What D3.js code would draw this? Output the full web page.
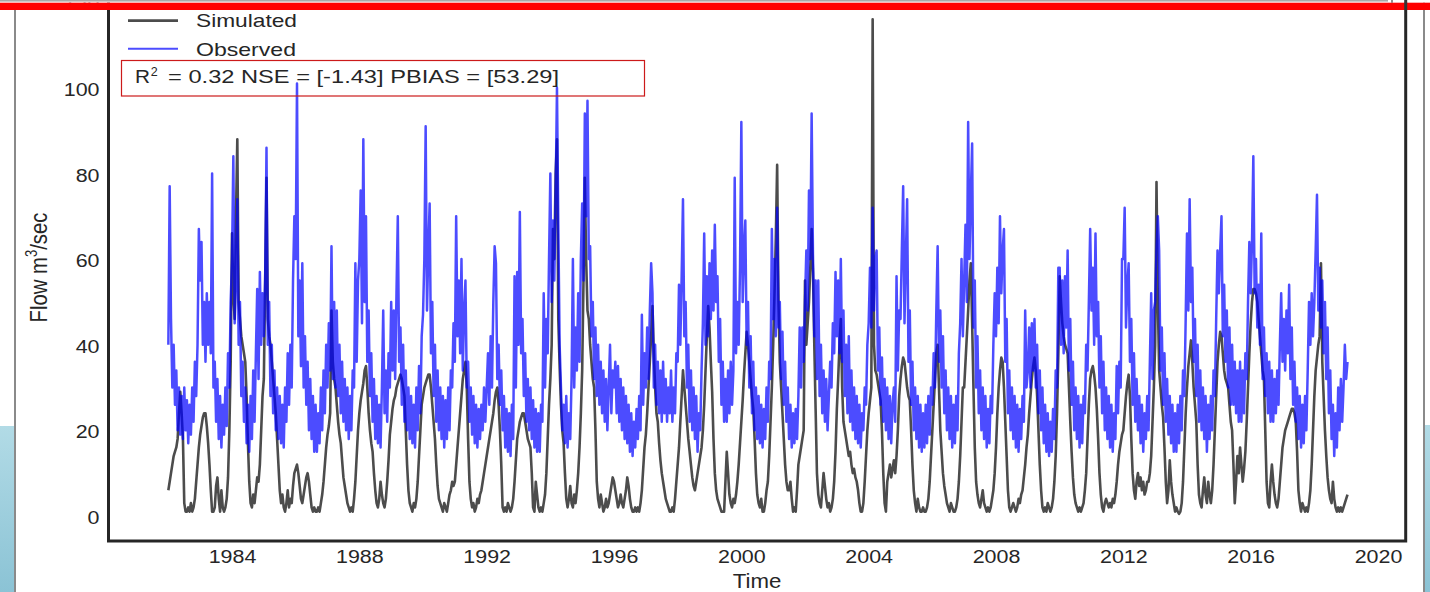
<!DOCTYPE html>
<html><head><meta charset="utf-8">
<script src="https://cdn.jsdelivr.net/npm/d3@7"></script>
<style>
body{margin:0;background:#fff;overflow:hidden}
svg{display:block}
text{font-family:"Liberation Sans",Arial,Helvetica,sans-serif;fill:#262626}
</style>
</head><body>
<svg id="c" width="1430" height="592"></svg>
<script>
// ---- data (semimonthly values, 24 per year starting 1982) ----
const startYear = 1982;
const stepsPerYear = 24;
const simulated = [
/*1982*/ 6,8,10,12,14,15,16,18,24,29,24,18,3,1,1,2,1,3,1,2,4,8,12,16,
/*1983*/ 19,21,23,24,24,21,17,12,6,1,1,2,7,9,4,1,6,2,1,2,4,9,20,36,
/*1984*/ 66,52,46,70,88,50,46,42,40,38,36,28,17,8,3,2,5,3,6,9,8,12,20,28,
/*1985*/ 32,55,79,46,42,40,36,32,28,24,18,12,6,3,5,2,1,3,6,2,4,3,7,10,
/*1986*/ 11,12,10,7,4,3,5,7,9,10,8,5,2,1,2,1,1,2,1,3,5,8,12,16,
/*1987*/ 19,21,24,48,36,32,30,26,22,19,17,13,9,7,5,3,2,1,2,1,4,8,14,20,
/*1988*/ 24,27,29,31,34,35,30,24,20,17,15,10,6,3,2,4,8,5,3,2,4,8,13,19,
/*1989*/ 22,25,27,28,30,31,32,33,32,30,28,20,12,6,3,2,1,3,2,4,8,14,20,26,
/*1990*/ 28,30,31,32,33,33,30,26,22,18,12,7,4,3,2,1,3,2,1,3,5,6,8,7,
/*1991*/ 8,12,16,20,24,28,32,34,36,30,18,8,4,2,3,1,2,4,3,5,6,8,10,12,
/*1992*/ 14,16,18,20,22,24,27,29,30,26,20,12,2,1,2,1,3,2,1,2,4,8,13,18,
/*1993*/ 20,22,23,24,24,22,20,18,17,16,10,2,1,8,5,2,1,2,1,3,5,10,18,26,
/*1994*/ 32,40,67,60,80,88,46,35,26,20,17,10,4,2,4,7,3,2,5,3,6,10,16,24,
/*1995*/ 34,55,79,60,48,46,40,36,32,30,20,8,4,2,5,3,1,2,4,2,3,5,7,9,
/*1996*/ 8,6,4,2,3,5,3,2,4,6,9,7,4,2,1,1,2,1,2,1,3,6,11,16,
/*1997*/ 19,24,30,36,42,49,38,30,24,22,17,13,10,8,6,4,3,2,1,1,2,1,4,8,
/*1998*/ 12,16,22,28,34,30,26,22,18,15,12,9,7,6,8,10,12,14,16,20,26,34,42,49,
/*1999*/ 44,36,29,18,10,6,4,3,2,1,1,1,8,15,10,5,3,2,4,3,5,8,12,17,
/*2000*/ 22,27,33,38,43,40,36,32,28,25,18,10,5,3,2,4,1,1,3,6,8,14,22,30,
/*2001*/ 40,52,65,82,50,36,30,24,18,12,8,6,6,8,4,1,2,1,6,12,14,16,18,20,
/*2002*/ 55,40,45,50,58,67,57,40,25,10,5,3,2,6,10,7,4,2,3,1,2,4,8,15,
/*2003*/ 25,32,40,46,30,22,20,18,16,14,15,12,10,11,9,8,6,3,1,1,3,8,14,20,
/*2004*/ 24,27,30,116,40,34,33,31,29,27,20,10,3,1,8,10,12,9,11,13,10,14,20,28,
/*2005*/ 32,35,37,36,33,30,28,27,20,12,6,3,1,4,2,1,1,2,1,1,2,4,8,14,
/*2006*/ 20,26,32,38,40,30,20,15,10,7,5,3,2,1,3,2,1,1,2,4,8,14,22,30,
/*2007*/ 30,36,42,48,55,59,45,30,16,8,5,3,2,4,6,3,2,1,2,1,2,4,6,10,
/*2008*/ 16,24,30,34,37,36,30,22,14,6,2,1,2,3,2,1,2,4,3,5,6,9,12,16,
/*2009*/ 19,24,28,32,35,37,34,28,20,12,6,2,1,2,1,3,2,1,2,4,8,14,24,38,
/*2010*/ 56,50,45,42,40,39,38,30,22,15,9,5,3,2,1,2,1,2,3,6,10,18,26,32,
/*2011*/ 34,35,33,30,25,18,10,5,2,1,3,4,3,2,3,2,4,3,5,8,12,15,17,19,
/*2012*/ 20,24,28,31,33,28,18,10,6,4,8,10,7,9,6,8,5,6,8,8,10,14,22,30,
/*2013*/ 40,78,50,34,30,26,23,16,8,3,6,13,8,5,3,1,2,1,0.5,1,3,8,16,24,
/*2014*/ 30,35,38,41,36,30,26,22,12,5,3,2,6,9,5,3,8,5,3,6,12,20,28,36,
/*2015*/ 40,43,42,38,34,32,31,30,26,22,20,12,3,8,14,10,16,12,8,11,15,22,30,38,
/*2016*/ 45,50,53,53,52,50,46,42,38,34,32,20,8,3,2,8,12,8,5,3,2,4,8,12,
/*2017*/ 16,18,20,21,22,23,24,25,25,24,22,15,6,3,1,3,2,1,2,1,3,6,12,20,
/*2018*/ 28,34,37,40,42,59,36,28,20,14,9,6,4,3,8,4,2,1,2,1,2,1,2,3,
/*2019*/ 4,5
];
const observed = [
/*1982*/ 40,77,46,30,40,26,34,20,30,19,28,18,30,20,27,17,26,19,30,22,36,28,40,67,
/*1983*/ 55,64,40,50,36,52,40,50,38,80,30,36,22,32,18,28,16,26,19,30,21,38,30,50,
/*1984*/ 60,84,45,55,74,40,50,28,36,22,30,17,26,15,28,18,34,22,38,53,32,57,40,52,
/*1985*/ 42,55,86,40,50,28,40,24,34,20,30,18,28,17,26,16,30,22,38,26,40,30,55,70,
/*1986*/ 60,101,42,55,35,59,30,42,26,36,20,32,18,28,15,26,15,24,17,30,20,34,24,40,
/*1987*/ 30,45,34,63,32,50,30,48,28,40,24,36,22,32,20,30,18,28,20,34,30,59,36,55,
/*1988*/ 60,76,45,88,50,70,36,48,28,38,22,32,18,28,17,26,16,30,48,24,34,22,38,30,
/*1989*/ 50,34,48,32,52,70,36,44,26,40,22,34,20,30,18,28,17,26,16,30,20,35,24,42,
/*1990*/ 47,60,91,48,62,73,38,50,28,40,22,34,20,30,18,28,16,27,18,30,20,34,30,45,
/*1991*/ 36,70,42,55,38,60,34,48,55,30,36,22,30,19,28,17,26,16,25,18,26,20,30,22,
/*1992*/ 30,38,26,42,30,50,63,59,32,40,26,34,20,28,16,25,15,24,14,26,18,56,30,57,
/*1993*/ 40,71,38,46,28,38,22,32,20,30,18,27,16,25,15,24,15,26,22,52,30,46,38,60,
/*1994*/ 80,50,69,55,75,100,68,40,30,20,26,17,28,16,24,18,32,60,30,44,34,52,36,60,
/*1995*/ 73,55,94,70,97,60,63,42,50,32,44,28,40,26,36,24,34,22,32,20,30,40,24,34,
/*1996*/ 30,36,24,35,22,32,20,30,18,28,17,26,15,24,14,22,16,25,18,28,20,47,26,38,
/*1997*/ 30,44,32,48,59,52,30,40,26,36,24,34,22,36,24,32,22,30,24,34,22,30,24,38,
/*1998*/ 36,54,40,56,74,42,50,30,40,22,34,20,30,18,28,15,24,20,34,45,66,40,56,42,
/*1999*/ 59,46,62,48,68,50,56,36,46,26,36,22,32,22,34,24,36,26,34,79,38,50,40,58,
/*2000*/ 92,50,62,69,40,50,30,42,24,36,20,30,18,28,17,26,16,25,18,30,22,36,32,67,
/*2001*/ 46,60,42,72,44,50,32,43,26,36,22,30,18,26,16,24,17,25,18,28,44,30,44,36,
/*2002*/ 50,62,48,76,60,94,61,42,55,32,55,28,40,24,34,22,32,20,28,36,30,45,38,57,
/*2003*/ 42,55,38,60,36,48,28,40,24,42,22,34,20,30,18,28,17,26,16,24,20,30,26,40,
/*2004*/ 45,58,44,72,48,60,62,34,44,26,37,22,32,20,30,18,28,17,26,30,22,56,34,48,
/*2005*/ 46,62,77,45,60,74,36,48,26,36,20,30,18,28,16,26,15,24,16,26,17,28,19,30,
/*2006*/ 26,38,30,48,63,36,48,30,42,24,34,20,30,18,28,16,26,17,28,20,38,45,60,42,
/*2007*/ 55,68,50,92,60,75,87,44,55,30,42,24,34,20,30,18,28,16,25,17,28,24,40,52,
/*2008*/ 42,58,45,70,52,62,67,36,46,24,34,20,30,18,28,16,26,15,25,18,28,22,48,30,
/*2009*/ 34,44,30,45,34,46,30,40,24,34,20,30,17,26,15,24,14,22,15,25,18,34,30,58,
/*2010*/ 58,40,55,38,56,44,62,34,46,26,36,20,30,18,28,16,26,17,28,24,40,34,50,67,
/*2011*/ 48,58,40,66,42,50,30,42,24,36,20,30,18,28,16,26,15,24,18,35,24,36,30,60,
/*2012*/ 60,72,44,54,59,36,46,26,38,22,32,20,28,17,26,15,24,18,28,20,36,52,32,48,
/*2013*/ 50,62,70,62,34,44,26,38,22,32,19,28,17,26,15,24,15,26,17,28,20,34,28,46,
/*2014*/ 66,48,74,50,58,36,46,28,40,22,34,20,30,18,28,15,26,18,28,20,34,28,46,62,
/*2015*/ 52,62,70,42,54,36,48,30,44,26,40,26,36,24,34,22,36,22,34,24,38,32,50,64,
/*2016*/ 52,64,84,52,60,44,54,40,66,32,44,28,38,24,36,22,34,22,32,24,34,26,40,52,
/*2017*/ 36,46,34,48,38,54,32,44,26,36,22,30,18,28,16,26,17,28,20,34,50,40,52,42,
/*2018*/ 50,62,75,48,58,44,55,38,50,32,44,24,34,18,26,14,24,16,30,20,32,22,30,40,
/*2019*/ 32,36
];
const yTicks = [0, 20, 40, 60, 80, 100, 120];
const xTicks = [1984, 1988, 1992, 1996, 2000, 2004, 2008, 2012, 2016, 2020];
const seriesNames = ["Simulated", "Observed"];
const statsLabel = {r2: "0.32", nse: "-1.43", pbias: "53.29"};

// ---- drawing ----
const svg = d3.select("#c");
const x = d3.scaleLinear().domain([1980.12, 2020.87]).range([108.5, 1405.7]);
const y = d3.scaleLinear().domain([-5.85, 122.85]).range([541, -10]);

function stretch(sel, f) {
  sel.each(function () {
    const w = this.getComputedTextLength();
    d3.select(this).attr("textLength", w * f).attr("lengthAdjust", "spacingAndGlyphs");
  });
}

// slide background pieces
const defs = svg.append("defs");
const g1 = defs.append("linearGradient").attr("id", "lb").attr("x1", 0).attr("y1", 0).attr("x2", 0).attr("y2", 1);
g1.append("stop").attr("offset", "0%").attr("stop-color", "#b2dbe6");
g1.append("stop").attr("offset", "100%").attr("stop-color", "#8bc3d5");
svg.append("rect").attr("x", 0).attr("y", 426).attr("width", 14).attr("height", 166).attr("fill", "url(#lb)");
svg.append("rect").attr("x", 1425).attr("y", 425).attr("width", 5).attr("height", 167).attr("fill", "url(#lb)");
svg.append("rect").attr("x", 14).attr("y", 10).attr("width", 2).attr("height", 582).attr("fill", "#8a8a8a");
svg.append("rect").attr("x", 1423).attr("y", 0).attr("width", 2).attr("height", 592).attr("fill", "#8a8a8a");

// series
const toPts = arr => arr.map((v, i) => [startYear + i / stepsPerYear, v]);
const line = d3.line().x(d => x(d[0])).y(d => y(d[1]));
svg.append("path").datum(toPts(simulated)).attr("d", line)
  .attr("fill", "none").attr("stroke", "#000").attr("stroke-opacity", 0.7)
  .attr("stroke-width", 2.6).attr("stroke-linejoin", "round");
svg.append("path").datum(toPts(observed)).attr("d", line)
  .attr("fill", "none").attr("stroke", "#0000ff").attr("stroke-opacity", 0.7)
  .attr("stroke-width", 2.5).attr("stroke-linejoin", "round");

// axes
const gy = svg.append("g").attr("transform", "translate(108.5,0)")
  .call(d3.axisLeft(y).tickValues(yTicks).tickSize(0).tickPadding(9));
gy.select(".domain").remove();
gy.attr("font-size", 18).attr("font-family", null);
gy.selectAll("text").attr("dy", "0.42em");
stretch(gy.selectAll("text"), 1.19);

const gx = svg.append("g").attr("transform", "translate(0,541)")
  .call(d3.axisBottom(x).tickValues(xTicks).tickFormat(d3.format("d")).tickSize(0).tickPadding(9));
gx.select(".domain").remove();
gx.attr("font-size", 18).attr("font-family", null);
stretch(gx.selectAll("text"), 1.19);

// frame
svg.append("rect").attr("x", 108.5).attr("y", -10).attr("width", 1297.2).attr("height", 551)
  .attr("fill", "none").attr("stroke", "#262626").attr("stroke-width", 3);

// axis titles
const tl = svg.append("text").attr("x", 757).attr("y", 588).attr("text-anchor", "middle")
  .attr("font-size", 19.5).text("Time");
stretch(tl, 1.14);
const yl = svg.append("text").attr("transform", "translate(46.5,267.5) rotate(-90) scale(1,1.2)")
  .attr("text-anchor", "middle").attr("font-size", 20.3);
yl.append("tspan").text("Flow m");
yl.append("tspan").attr("font-size", 13).attr("dy", -8).text("3");
yl.append("tspan").attr("dy", 8).text("/sec");

// legend
svg.append("line").attr("x1", 128).attr("x2", 178).attr("y1", 20.7).attr("y2", 20.7)
  .attr("stroke", "#000").attr("stroke-opacity", 0.7).attr("stroke-width", 2.7);
svg.append("line").attr("x1", 128).attr("x2", 178).attr("y1", 48.7).attr("y2", 48.7)
  .attr("stroke", "#0000ff").attr("stroke-opacity", 0.7).attr("stroke-width", 2.1);
svg.append("text").attr("x", 196).attr("y", 27.3).attr("font-size", 18.6)
  .attr("textLength", 101).attr("lengthAdjust", "spacingAndGlyphs").text(seriesNames[0]);
svg.append("text").attr("x", 196).attr("y", 56).attr("font-size", 18.6)
  .attr("textLength", 100).attr("lengthAdjust", "spacingAndGlyphs").text(seriesNames[1]);

// stats box
svg.append("rect").attr("x", 121.5).attr("y", 60.5).attr("width", 523).attr("height", 35.5)
  .attr("fill", "none").attr("stroke", "#cc1a1a").attr("stroke-width", 1.2);
const st = svg.append("text").attr("y", 83.3).attr("font-size", 17.6);
st.append("tspan").attr("x", 135).attr("textLength", 15).attr("lengthAdjust", "spacingAndGlyphs").text("R");
st.append("tspan").attr("x", 150.8).attr("dy", -7).attr("font-size", 12.5).text("2");
st.append("tspan").attr("x", 161.5).attr("dy", 7)
  .attr("textLength", 397.5).attr("lengthAdjust", "spacingAndGlyphs")
  .text(` = ${statsLabel.r2} NSE = [${statsLabel.nse}] PBIAS = [${statsLabel.pbias}]`);

// slide top bar
svg.append("rect").attr("x", 0).attr("y", 0).attr("width", 1430).attr("height", 2.7).attr("fill", "#fff");
svg.append("rect").attr("x", 0).attr("y", 0).attr("width", 1388).attr("height", 1.6).attr("fill", "#a8a8a8");
svg.append("rect").attr("x", 0).attr("y", 2.7).attr("width", 1430).attr("height", 7.3).attr("fill", "#ff0000");
svg.append("rect").attr("x", 1391.5).attr("y", 0).attr("width", 1).attr("height", 2.7).attr("fill", "#222");
svg.append("rect").attr("x", 1404.2).attr("y", 0).attr("width", 3).attr("height", 10).attr("fill", "#333");
</script>
</body></html>
